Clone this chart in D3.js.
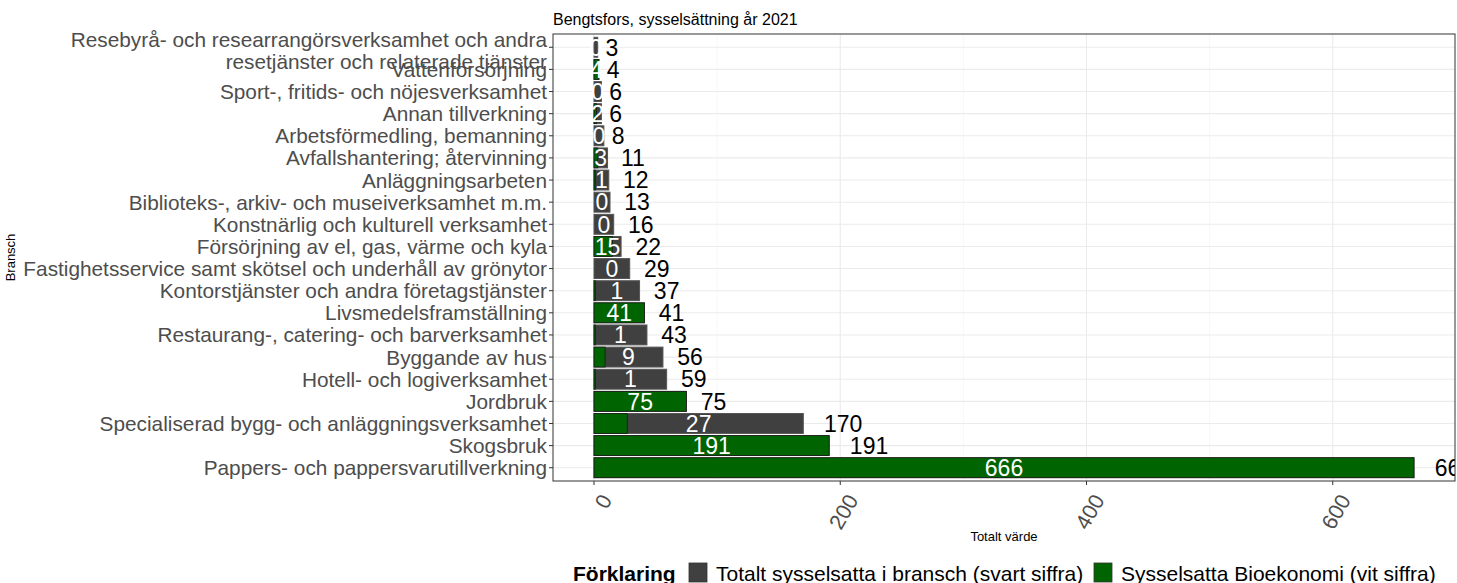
<!DOCTYPE html>
<html><head><meta charset="utf-8">
<script src="https://cdn.jsdelivr.net/npm/d3@7"></script>
<style>
body{margin:0;background:#fff;}
text{font-family:"Liberation Sans",Arial,sans-serif;}
</style></head>
<body><svg id="c" width="1457" height="583"></svg>
<script>
const categories = [
  "Resebyrå- och researrangörsverksamhet och andra\nresetjänster och relaterade tjänster",
  "Vattenförsörjning",
  "Sport-, fritids- och nöjesverksamhet",
  "Annan tillverkning",
  "Arbetsförmedling, bemanning",
  "Avfallshantering; återvinning",
  "Anläggningsarbeten",
  "Biblioteks-, arkiv- och museiverksamhet m.m.",
  "Konstnärlig och kulturell verksamhet",
  "Försörjning av el, gas, värme och kyla",
  "Fastighetsservice samt skötsel och underhåll av grönytor",
  "Kontorstjänster och andra företagstjänster",
  "Livsmedelsframställning",
  "Restaurang-, catering- och barverksamhet",
  "Byggande av hus",
  "Hotell- och logiverksamhet",
  "Jordbruk",
  "Specialiserad bygg- och anläggningsverksamhet",
  "Skogsbruk",
  "Pappers- och pappersvarutillverkning"
];
const totalValues = [3,4,6,6,8,11,12,13,16,22,29,37,41,43,56,59,75,170,191,666];
const bioValues   = [0,4,0,2,0,3,1,0,0,15,0,1,41,1,9,1,75,27,191,666];
const xTicks = [0,200,400,600];
const legendLabels = ["Totalt sysselsatta i bransch (svart siffra)","Sysselsatta Bioekonomi (vit siffra)"];

const svg = d3.select("#c");
const L=553, R=1455, T=34, B=481;
const maxV = d3.max(totalValues);
const x = d3.scaleLinear().domain([-0.05*maxV, 1.05*maxV]).range([L,R]);
const n = categories.length;
const step = (B-T)/(n-1+1.2);
const y = d3.scalePoint().domain(categories).range([T+0.6*step, B-0.6*step]);
const bh = 0.9*step;

// title
svg.append("text").attr("x",L).attr("y",25).attr("font-size",16).attr("fill","#000")
  .text("Bengtsfors, sysselsättning år 2021");

// grid
const g = svg.append("g");
const minor = [100,300,500];
g.selectAll(".mn").data(minor).enter().append("line")
  .attr("x1",d=>x(d)).attr("x2",d=>x(d)).attr("y1",T).attr("y2",B)
  .attr("stroke","#f2f2f2").attr("stroke-width",0.6);
g.selectAll(".mj").data(xTicks).enter().append("line")
  .attr("x1",d=>x(d)).attr("x2",d=>x(d)).attr("y1",T).attr("y2",B)
  .attr("stroke","#ebebeb").attr("stroke-width",1.1);
g.selectAll(".hy").data(categories).enter().append("line")
  .attr("x1",L).attr("x2",R).attr("y1",d=>y(d)).attr("y2",d=>y(d))
  .attr("stroke","#ebebeb").attr("stroke-width",1.1);

// bars
const data = categories.map((c,i)=>({c, t:totalValues[i], b:bioValues[i]}));
svg.selectAll(".tb").data(data).enter().append("rect")
  .attr("x",x(0)).attr("y",d=>y(d.c)-bh/2).attr("width",d=>x(d.t)-x(0)).attr("height",bh)
  .attr("fill","#404040").attr("stroke","#555").attr("stroke-width",1);
svg.selectAll(".bb").data(data.filter(d=>d.b>0)).enter().append("rect")
  .attr("x",x(0)).attr("y",d=>y(d.c)-bh/2).attr("width",d=>x(d.b)-x(0)).attr("height",bh)
  .attr("fill","#006400").attr("stroke","#1a1a1a").attr("stroke-width",0.8);

// labels
svg.append("clipPath").attr("id","pc").append("rect")
  .attr("x",L).attr("y",T).attr("width",R-L).attr("height",B-T);
const lab = svg.append("g").attr("clip-path","url(#pc)");
lab.selectAll(".wl").data(data).enter().append("text")
  .attr("x",d=>x(d.t/2)).attr("y",d=>y(d.c)).attr("dy","0.36em")
  .attr("text-anchor","middle").attr("font-size",23).attr("fill","#fff")
  .text(d=>d.b);
lab.selectAll(".bl").data(data).enter().append("text")
  .attr("y",d=>y(d.c)).attr("dy","0.36em")
  .attr("font-size",23).attr("fill","#000")
  .text(d=>d.t)
  .each(function(d){ const w=this.getComputedTextLength(); d3.select(this).attr("x", x(d.t)+0.5*w+1.5); });

// panel border
svg.append("rect").attr("x",L).attr("y",T).attr("width",R-L).attr("height",B-T)
  .attr("fill","none").attr("stroke","#333").attr("stroke-width",1);

// y axis ticks & labels
svg.selectAll(".yt").data(categories).enter().append("line")
  .attr("x1",L-4).attr("x2",L).attr("y1",d=>y(d)).attr("y2",d=>y(d)).attr("stroke","#333");
const yl = svg.selectAll(".yl").data(categories).enter().append("text")
  .attr("x",L-6).attr("y",d=>y(d)).attr("text-anchor","end").attr("font-size",20.8).attr("fill","#4d4d4d");
yl.each(function(d){
  const lines = d.split("\n");
  const s = d3.select(this);
  const off = lines.length>1 ? -8 : 0;
  lines.forEach((ln,k)=>{
    s.append("tspan").attr("x",L-6).attr("y",y(d)+off+k*22).attr("dy","0.36em").text(ln);
  });
});

// x axis ticks & labels
svg.selectAll(".xt").data(xTicks).enter().append("line")
  .attr("x1",d=>x(d)).attr("x2",d=>x(d)).attr("y1",B).attr("y2",B+4).attr("stroke","#333");
svg.selectAll(".xl").data(xTicks).enter().append("text")
  .attr("transform",d=>`translate(${x(d)+12},${B+15}) rotate(-60)`)
  .attr("text-anchor","end").attr("dy","0.36em").attr("font-size",21.5).attr("fill","#4d4d4d")
  .text(d=>d);

// axis titles
svg.append("text").attr("x",(L+R)/2).attr("y",541).attr("text-anchor","middle")
  .attr("font-size",13).attr("fill","#000").text("Totalt värde");
svg.append("text").attr("transform",`translate(15,${(T+B)/2}) rotate(-90)`).attr("text-anchor","middle")
  .attr("font-size",13).attr("fill","#000").text("Bransch");

// legend
const lg = svg.append("g");
lg.append("text").attr("x",573).attr("y",581).attr("font-size",21).attr("font-weight","bold").attr("fill","#000").text("Förklaring");
const lcol = ["#404040","#006400"];
const lx = [689, 1094];
legendLabels.forEach((t,i)=>{
  lg.append("rect").attr("x",lx[i]).attr("y",563).attr("width",18).attr("height",19)
    .attr("fill",lcol[i]).attr("stroke","#333").attr("stroke-width",0.8);
  lg.append("text").attr("x",lx[i]+27).attr("y",581).attr("font-size",21).attr("fill","#000").text(t);
});
</script></body></html>
